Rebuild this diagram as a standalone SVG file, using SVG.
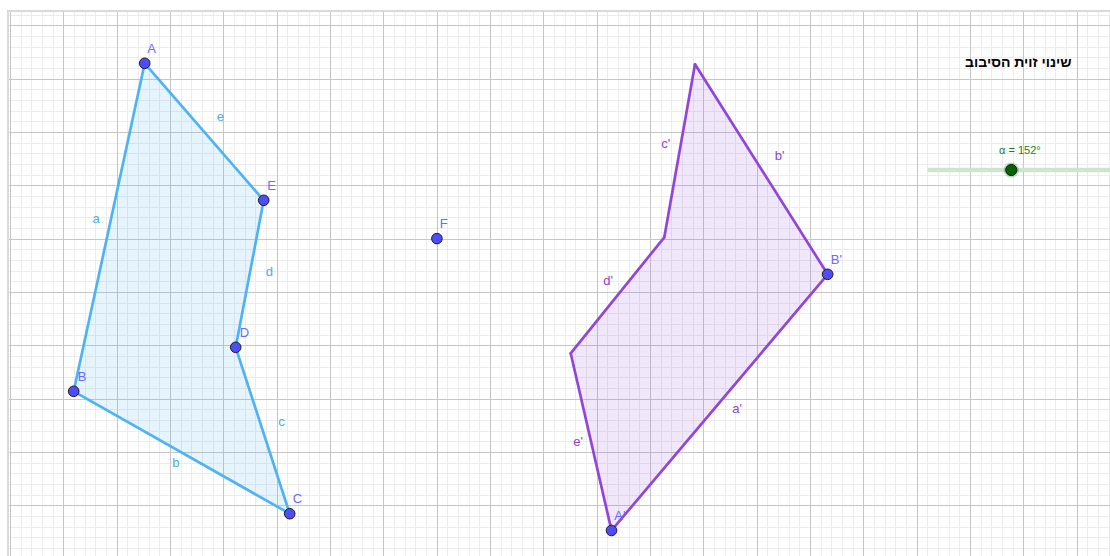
<svg xmlns="http://www.w3.org/2000/svg" width="1110" height="556" viewBox="0 0 1110 556">
<style>
.minor{stroke:#ececec;stroke-width:1;fill:none}
.major{stroke:#c6c6c6;stroke-width:1;fill:none}
.frame{stroke:#d9d9d9;stroke-width:2;fill:none}
.pt{fill:#4d4dff;stroke:#1a1a1a;stroke-width:1}
.plab{font-family:"Liberation Sans",Arial,sans-serif;font-size:13px;fill:#6a6aff}
.blab{font-family:"Liberation Sans",Arial,sans-serif;font-size:13px;fill:#4aabf2}
.vlab{font-family:"Liberation Sans",Arial,sans-serif;font-size:13px;fill:#8d44d6}
.polyB{fill:#4db3f5;fill-opacity:0.14;stroke:none}
.polyV{fill:#9a55d9;fill-opacity:0.14;stroke:none}
.segB{stroke:#4db3f5;stroke-width:2.7;fill:none;stroke-linecap:round}
.segV{stroke:#9146d9;stroke-width:2.7;fill:none;stroke-linecap:round}
</style>
<rect width="1110" height="556" fill="#ffffff"/>
<g id="grid">
<path class="minor" d="M21.5 11V556M31.5 11V556M42.5 11V556M53.5 11V556M74.5 11V556M85.5 11V556M95.5 11V556M106.5 11V556M127.5 11V556M138.5 11V556M149.5 11V556M159.5 11V556M181.5 11V556M191.5 11V556M202.5 11V556M213.5 11V556M234.5 11V556M245.5 11V556M255.5 11V556M266.5 11V556M287.5 11V556M298.5 11V556M309.5 11V556M319.5 11V556M341.5 11V556M351.5 11V556M362.5 11V556M373.5 11V556M394.5 11V556M405.5 11V556M415.5 11V556M426.5 11V556M447.5 11V556M458.5 11V556M469.5 11V556M479.5 11V556M501.5 11V556M511.5 11V556M522.5 11V556M533.5 11V556M554.5 11V556M565.5 11V556M575.5 11V556M586.5 11V556M607.5 11V556M618.5 11V556M629.5 11V556M639.5 11V556M661.5 11V556M671.5 11V556M682.5 11V556M693.5 11V556M714.5 11V556M725.5 11V556M735.5 11V556M746.5 11V556M767.5 11V556M778.5 11V556M789.5 11V556M799.5 11V556M821.5 11V556M831.5 11V556M842.5 11V556M853.5 11V556M874.5 11V556M885.5 11V556M895.5 11V556M906.5 11V556M927.5 11V556M938.5 11V556M949.5 11V556M959.5 11V556M981.5 11V556M991.5 11V556M1002.5 11V556M1013.5 11V556M1034.5 11V556M1045.5 11V556M1055.5 11V556M1066.5 11V556M1087.5 11V556M1098.5 11V556M1109.5 11V556
M9 15.5H1110M9 36.5H1110M9 47.5H1110M9 57.5H1110M9 68.5H1110M9 89.5H1110M9 100.5H1110M9 111.5H1110M9 121.5H1110M9 143.5H1110M9 153.5H1110M9 164.5H1110M9 175.5H1110M9 196.5H1110M9 207.5H1110M9 217.5H1110M9 228.5H1110M9 249.5H1110M9 260.5H1110M9 271.5H1110M9 281.5H1110M9 303.5H1110M9 313.5H1110M9 324.5H1110M9 335.5H1110M9 356.5H1110M9 367.5H1110M9 377.5H1110M9 388.5H1110M9 409.5H1110M9 420.5H1110M9 431.5H1110M9 441.5H1110M9 463.5H1110M9 473.5H1110M9 484.5H1110M9 495.5H1110M9 516.5H1110M9 527.5H1110M9 537.5H1110M9 548.5H1110"/>
<path class="major" d="M10.5 11V556M63.5 11V556M117.5 11V556M170.5 11V556M223.5 11V556M277.5 11V556M330.5 11V556M383.5 11V556M437.5 11V556M490.5 11V556M543.5 11V556M597.5 11V556M650.5 11V556M703.5 11V556M757.5 11V556M810.5 11V556M863.5 11V556M917.5 11V556M970.5 11V556M1023.5 11V556M1077.5 11V556
M9 25.5H1110M9 79.5H1110M9 132.5H1110M9 185.5H1110M9 239.5H1110M9 292.5H1110M9 345.5H1110M9 399.5H1110M9 452.5H1110M9 505.5H1110"/>
<path class="frame" d="M7 11H1110M8 10V556"/>
</g>
<g id="connectors">
<g id="poly1">
<polygon class="polyB" points="144.7,63.3 263.7,200.3 235.7,347.3 289.7,513.7 73.7,391.3"/>
<line id="seg-e" class="segB" x1="144.7" y1="63.3" x2="263.7" y2="200.3"/>
<line id="seg-d" class="segB" x1="263.7" y1="200.3" x2="235.7" y2="347.3"/>
<line id="seg-c" class="segB" x1="235.7" y1="347.3" x2="289.7" y2="513.7"/>
<line id="seg-b" class="segB" x1="289.7" y1="513.7" x2="73.7" y2="391.3"/>
<line id="seg-a" class="segB" x1="73.7" y1="391.3" x2="144.7" y2="63.3"/>
</g>
<g id="poly1p">
<polygon class="polyV" points="611.5,530.5 570.7,353.3 664.3,237.3 695,64.3 827.7,274.3"/>
<line id="seg-ep" class="segV" x1="611.5" y1="530.5" x2="570.7" y2="353.3"/>
<line id="seg-dp" class="segV" x1="570.7" y1="353.3" x2="664.3" y2="237.3"/>
<line id="seg-cp" class="segV" x1="664.3" y1="237.3" x2="695" y2="64.3"/>
<line id="seg-bp" class="segV" x1="695" y1="64.3" x2="827.7" y2="274.3"/>
<line id="seg-ap" class="segV" x1="827.7" y1="274.3" x2="611.5" y2="530.5"/>
</g>
</g>
<g id="edge-labels">
<text class="blab" x="92.5" y="223">a</text>
<text class="blab" x="216.8" y="121">e</text>
<text class="blab" x="265.8" y="276">d</text>
<text class="blab" x="278.3" y="425.5">c</text>
<text class="blab" x="172.3" y="466.5">b</text>
<text class="vlab" x="661.3" y="148">c'</text>
<text class="vlab" x="774.8" y="160">b'</text>
<text class="vlab" x="603.3" y="285">d'</text>
<text class="vlab" x="732.3" y="413">a'</text>
<text class="vlab" x="573.3" y="446">e'</text>
</g>
<g id="A"><circle class="pt" cx="144.7" cy="63.3" r="5.3"/><text class="plab" x="147.3" y="52.5">A</text></g>
<g id="E"><circle class="pt" cx="263.7" cy="200.3" r="5.3"/><text class="plab" x="267.3" y="190">E</text></g>
<g id="D"><circle class="pt" cx="235.7" cy="347.3" r="5.3"/><text class="plab" x="239.8" y="337">D</text></g>
<g id="C"><circle class="pt" cx="289.7" cy="513.7" r="5.3"/><text class="plab" x="292.8" y="503">C</text></g>
<g id="B"><circle class="pt" cx="73.7" cy="391.3" r="5.3"/><text class="plab" x="77.8" y="381">B</text></g>
<g id="F"><circle class="pt" cx="436.9" cy="238.6" r="5.3"/><text class="plab" x="439.8" y="228">F</text></g>
<g id="Ap"><circle class="pt" cx="611.5" cy="530.5" r="5.3"/><text class="plab" x="614.3" y="520">A'</text></g>
<g id="Bp"><circle class="pt" cx="827.7" cy="274.3" r="5.3"/><text class="plab" x="830.8" y="263.5">B'</text></g>
<g id="title"><text x="1071.5" y="67" text-anchor="end" font-family="Liberation Sans, Arial, sans-serif" font-size="14" font-weight="bold" fill="#000000">שינוי זוית הסיבוב</text></g>
<g id="slider">
<line x1="929.5" y1="170" x2="1112" y2="170" stroke="#cfe3cf" stroke-width="4.5" stroke-linecap="round"/>
<circle cx="1011.3" cy="170" r="7.8" fill="#006400" fill-opacity="0.22"/>
<circle cx="1011.3" cy="170" r="5.6" fill="#006400" stroke="#0a1f0a" stroke-width="1"/>
<text x="999" y="154" font-family="Liberation Sans, Arial, sans-serif" font-size="11" fill="#1f7f1f">α = 152°</text>
</g>
</svg>
